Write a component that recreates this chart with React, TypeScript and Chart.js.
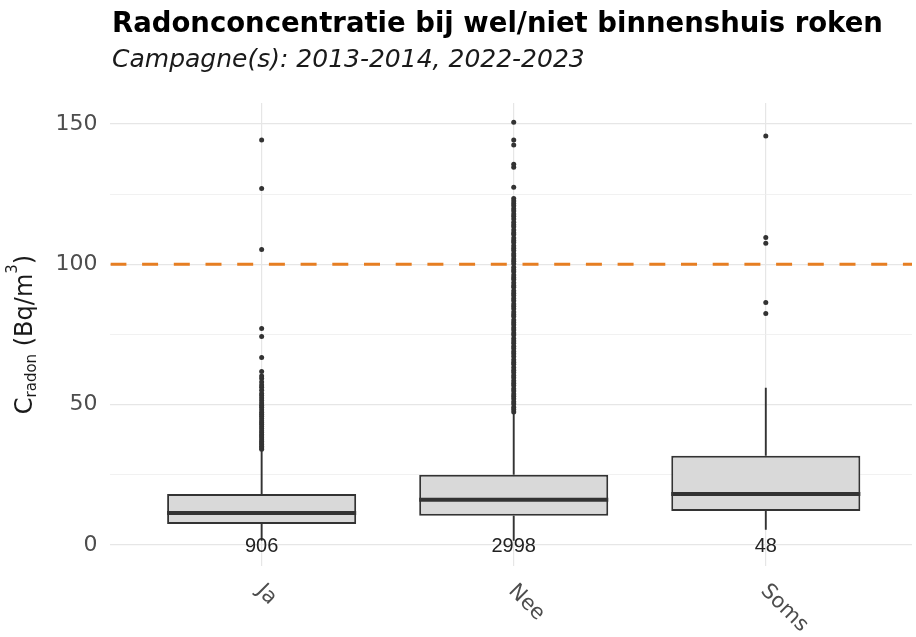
import React, { useEffect, useRef } from "react";
import { Chart, registerables } from "chart.js";

Chart.register(...registerables);

// ---------- data ----------
const CATEGORIES = ["Ja", "Nee", "Soms"];
const COUNTS = [906, 2998, 48];
const WHISKER_LOW = [1.5, 1.5, 5.4];
const Q1 = [7.5, 10.4, 12.1];
const MEDIAN = [11.4, 16.1, 18.2];
const Q3 = [18.2, 25.0, 31.8];
const WHISKER_HIGH = [33.6, 47.0, 56.0];

const OUTLIERS_JA = [
  34.1, 34.6, 35.2, 35.8, 36.3, 36.9, 37.5, 38.2, 38.8, 39.4, 40.1, 40.7, 41.5,
  42.2, 43.0, 43.6, 44.3, 45.1, 45.9, 46.6, 47.3, 48.2, 49.1, 49.8, 50.6, 51.5,
  52.4, 53.3, 54.0, 55.1, 56.2, 57.0, 58.1, 59.3, 60.2, 61.8, 66.8, 74.3, 77.1,
  105.3, 127.0, 144.3,
];
const OUTLIERS_NEE = [
  47.4, 48.3, 49.1, 50.2, 51.0, 52.1, 53.0, 53.8, 54.9, 55.7, 56.8, 57.6, 58.5,
  59.6, 60.4, 61.5, 62.3, 63.2, 64.4, 65.1, 66.0, 67.2, 68.1, 68.9, 70.0, 70.8,
  71.9, 72.7, 73.6, 74.8, 75.5, 76.6, 77.4, 78.5, 79.3, 80.2, 81.4, 82.1, 83.0,
  84.2, 85.1, 85.9, 87.0, 87.8, 88.9, 89.7, 90.6, 91.8, 92.5, 93.4, 94.6, 95.3,
  96.2, 97.4, 98.1, 99.0, 100.2, 101.1, 101.9, 103.0, 103.8, 104.9, 105.7,
  106.6, 107.8, 108.5, 109.4, 110.6, 111.3, 112.2, 113.4, 114.1, 115.0, 116.2,
  117.1, 117.9, 119.0, 119.8, 120.9, 121.7, 122.6, 123.5, 127.5, 134.6, 135.7,
  142.5, 144.3, 150.6,
];
const OUTLIERS_SOMS = [82.5, 86.4, 107.5, 109.6, 145.7];
const OUTLIERS = [OUTLIERS_JA, OUTLIERS_NEE, OUTLIERS_SOMS];

const THRESHOLD = 100;
const Y_TICKS = [0, 25, 50, 75, 100, 125, 150];
const Y_MIN = -7.5;
const Y_MAX = 157.5;
const X_MIN = 0.4;
const X_MAX = 3.58;

const TITLE = "Radonconcentratie bij wel/niet binnenshuis roken";
const SUBTITLE = "Campagne(s): 2013-2014, 2022-2023";

// ---------- styles ----------
const FONT = "'DejaVu Sans', Verdana, sans-serif";
const DARK = "#333333";
const AXIS_TEXT = "#4d4d4d";
const GRID_MAJOR = "#e6e6e6";
const GRID_MINOR = "#eeeeee";
const BOX_FILL = "#d9d9d9";
const ORANGE = "#e67e22";

export default function App() {
  const ref = useRef<HTMLCanvasElement | null>(null);

  useEffect(() => {
    const canvas = ref.current;
    if (!canvas) return;

    const positions = CATEGORIES.map((_, i) => i + 1);

    const boxPlugin = {
      id: "boxParts",
      beforeDatasetsDraw(chart: any) {
        const { ctx, scales } = chart;
        const x = scales.x;
        const y = scales.y;
        ctx.save();
        ctx.strokeStyle = DARK;
        ctx.lineWidth = 1.9;
        positions.forEach((p, i) => {
          const px = x.getPixelForValue(p);
          ctx.beginPath();
          ctx.moveTo(px, y.getPixelForValue(Q3[i]));
          ctx.lineTo(px, y.getPixelForValue(WHISKER_HIGH[i]));
          ctx.moveTo(px, y.getPixelForValue(Q1[i]));
          ctx.lineTo(px, y.getPixelForValue(WHISKER_LOW[i]));
          ctx.stroke();
        });
        ctx.restore();
      },
      afterDatasetDraw(chart: any, args: any) {
        if (args.index !== 1) return;
        const { ctx, scales } = chart;
        const y = scales.y;
        const meta = chart.getDatasetMeta(1);
        ctx.save();
        ctx.strokeStyle = DARK;
        ctx.lineWidth = 4;
        meta.data.forEach((bar: any, i: number) => {
          const half = bar.width / 2;
          const py = y.getPixelForValue(MEDIAN[i]);
          ctx.beginPath();
          ctx.moveTo(bar.x - half, py);
          ctx.lineTo(bar.x + half, py);
          ctx.stroke();
        });
        ctx.restore();
      },
      afterDraw(chart: any) {
        const { ctx, scales } = chart;
        const x = scales.x;
        const y = scales.y;
        ctx.save();
        // title
        ctx.fillStyle = "#000000";
        ctx.textAlign = "left";
        ctx.textBaseline = "alphabetic";
        ctx.font = `bold 27.5px ${FONT}`;
        ctx.fillText(TITLE, 112, 32);
        ctx.fillStyle = "#1a1a1a";
        ctx.font = `italic 25px ${FONT}`;
        ctx.fillText(SUBTITLE, 112, 67);

        // counts
        ctx.fillStyle = "#222222";
        ctx.textAlign = "center";
        ctx.font = `20px 'Liberation Sans', Arial, sans-serif`;
        positions.forEach((p, i) => {
          ctx.fillText(String(COUNTS[i]), x.getPixelForValue(p), y.getPixelForValue(0) + 7.5);
        });

        // x labels
        ctx.fillStyle = AXIS_TEXT;
        ctx.font = `21px ${FONT}`;
        ctx.textAlign = "left";
        ctx.textBaseline = "middle";
        positions.forEach((p, i) => {
          ctx.save();
          ctx.translate(x.getPixelForValue(p) - 2, chart.chartArea.bottom + 22);
          ctx.rotate(Math.PI / 4);
          ctx.fillText(CATEGORIES[i], 0, 0);
          ctx.restore();
        });

        // y title
        const cy = (chart.chartArea.top + chart.chartArea.bottom) / 2;
        ctx.save();
        ctx.translate(32, cy);
        ctx.rotate(-Math.PI / 2);
        ctx.fillStyle = "#1a1a1a";
        ctx.textBaseline = "alphabetic";
        ctx.textAlign = "left";
        const parts = [
          { t: "C", f: `24px ${FONT}`, dy: 0 },
          { t: "radon", f: `15px ${FONT}`, dy: 4 },
          { t: " (Bq/m", f: `24px ${FONT}`, dy: 0 },
          { t: "3", f: `15px ${FONT}`, dy: -15 },
          { t: ")", f: `24px ${FONT}`, dy: 0 },
        ];
        let total = 0;
        parts.forEach((pt) => {
          ctx.font = pt.f;
          total += ctx.measureText(pt.t).width;
        });
        let cx = -total / 2;
        parts.forEach((pt) => {
          ctx.font = pt.f;
          ctx.fillText(pt.t, cx, pt.dy);
          cx += ctx.measureText(pt.t).width;
        });
        ctx.restore();
        ctx.restore();
      },
    };

    const outlierPoints: { x: number; y: number }[] = [];
    OUTLIERS.forEach((arr, i) => arr.forEach((v) => outlierPoints.push({ x: i + 1, y: v })));

    const chart = new Chart(canvas, {
      type: "bar",
      data: {
        datasets: [
          {
            type: "line",
            data: [
              { x: X_MIN, y: THRESHOLD },
              { x: X_MAX + 0.1, y: THRESHOLD },
            ],
            borderColor: ORANGE,
            borderWidth: 3,
            borderDash: [16, 15.7],
            pointRadius: 0,
            order: 0,
          } as any,
          {
            type: "bar",
            data: positions.map((p, i) => ({ x: p, y: [Q1[i], Q3[i]] })),
            backgroundColor: BOX_FILL,
            borderColor: DARK,
            borderWidth: 2,
            borderSkipped: false,
            barPercentage: 0.75,
            categoryPercentage: 1,
            order: 2,
          } as any,
          {
            type: "scatter",
            data: outlierPoints,
            pointRadius: 2.5,
            pointBackgroundColor: DARK,
            pointBorderWidth: 0,
            order: 1,
          } as any,
        ],
      },
      options: {
        animation: false,
        responsive: false,
        devicePixelRatio: 1,
        layout: { padding: { top: 103, left: 0, right: 0, bottom: 0 } },
        plugins: { legend: { display: false }, tooltip: { enabled: false } },
        scales: {
          x: {
            type: "linear",
            min: X_MIN,
            max: X_MAX,
            offset: false,
            afterBuildTicks: (s: any) => {
              s.ticks = positions.map((v) => ({ value: v }));
            },
            ticks: { display: false },
            grid: { color: GRID_MAJOR, lineWidth: 1.2, drawTicks: false, offset: false },
            border: { display: false },
            afterFit: (s: any) => {
              s.height = 71;
            },
          },
          y: {
            type: "linear",
            min: Y_MIN,
            max: Y_MAX,
            afterBuildTicks: (s: any) => {
              s.ticks = Y_TICKS.map((v) => ({ value: v }));
            },
            ticks: {
              callback: (v: any) => (Number(v) % 50 === 0 ? String(v) : ""),
              font: { family: FONT, size: 22 },
              color: AXIS_TEXT,
              padding: 13,
            },
            grid: {
              color: (c: any) => (c.tick && c.tick.value % 50 === 0 ? GRID_MAJOR : GRID_MINOR),
              lineWidth: (c: any) => (c.tick && c.tick.value % 50 === 0 ? 1.3 : 0.8),
              drawTicks: false,
            },
            border: { display: false },
            afterFit: (s: any) => {
              s.width = 110.4;
            },
          },
        },
      } as any,
      plugins: [boxPlugin],
    });

    return () => chart.destroy();
  }, []);

  return (
    <div style={{ position: "fixed", left: 0, top: 0, width: 916, height: 637, background: "#ffffff" }}>
      <canvas ref={ref} width={916} height={637} style={{ display: "block" }} />
    </div>
  );
}
